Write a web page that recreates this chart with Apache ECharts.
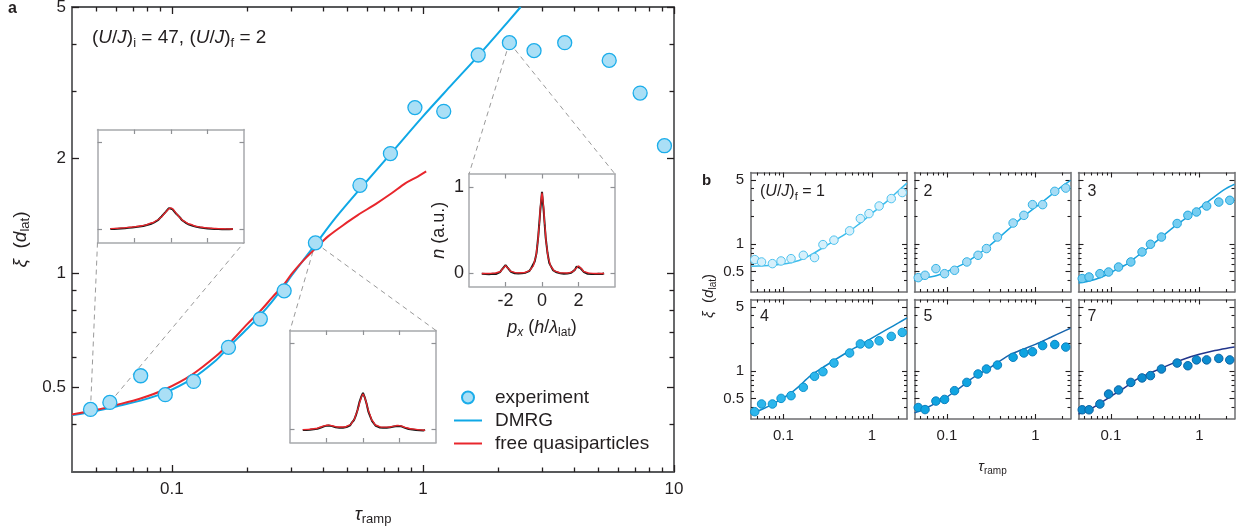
<!DOCTYPE html>
<html>
<head>
<meta charset="utf-8">
<title>correlation length vs ramp time</title>
<script src="https://cdn.jsdelivr.net/npm/echarts@6.0.0/dist/echarts.min.js"></script>
<style>
  html, body { margin: 0; padding: 0; background: #fff; }
  #main { width: 1251px; height: 531px; }
</style>
</head>
<body>
<div id="main"></div>
<script>
// ---- panel a : (U/J)i = 47 -> (U/J)f = 2
const tauA = [0.0474, 0.0566, 0.0751, 0.0941, 0.122, 0.168, 0.225, 0.28, 0.373, 0.561, 0.742, 0.929, 1.21, 1.66, 2.21, 2.77, 3.67, 5.52, 7.33, 9.16];
const xiA = [0.438, 0.457, 0.537, 0.479, 0.519, 0.638, 0.757, 0.898, 1.20, 1.70, 2.06, 2.72, 2.66, 3.74, 4.03, 3.84, 4.03, 3.62, 2.97, 2.16];

const tauDmrg = [0.04, 0.05, 0.06, 0.075, 0.094, 0.12, 0.15, 0.168, 0.2, 0.225, 0.25, 0.28, 0.3, 0.373, 0.45, 0.56, 0.74, 1.0, 1.3, 1.66, 2.0, 2.45];
const xiDmrg = [0.423, 0.434, 0.446, 0.462, 0.485, 0.527, 0.59, 0.638, 0.715, 0.775, 0.84, 0.925, 0.985, 1.19, 1.40, 1.66, 2.05, 2.58, 3.12, 3.72, 4.28, 5.0];

const tauFree = [0.04, 0.05, 0.06, 0.075, 0.094, 0.12, 0.15, 0.168, 0.2, 0.225, 0.25, 0.28, 0.3, 0.33, 0.373, 0.42, 0.5, 0.55, 0.65, 0.75, 0.85, 0.95, 1.03];
const xiFree = [0.425, 0.437, 0.45, 0.468, 0.495, 0.54, 0.605, 0.65, 0.735, 0.795, 0.86, 0.935, 0.995, 1.07, 1.16, 1.25, 1.36, 1.42, 1.52, 1.62, 1.72, 1.79, 1.85];

// ---- insets : momentum distributions n(p_x)
const pInset = [-3.3, -3.2, -3.1, -3.0, -2.9, -2.8, -2.7, -2.6, -2.5, -2.4,
  -2.3, -2.2, -2.1, -2.0, -1.9, -1.8, -1.7, -1.6, -1.5, -1.4,
  -1.3, -1.2, -1.1, -1.0, -0.9, -0.8, -0.7, -0.6, -0.5, -0.4,
  -0.3, -0.2, -0.1, 0, 0.1, 0.2, 0.3, 0.4, 0.5, 0.6,
  0.7, 0.8, 0.9, 1.0, 1.1, 1.2, 1.3, 1.4, 1.5, 1.6,
  1.7, 1.8, 1.9, 2.0, 2.1, 2.2, 2.3, 2.4, 2.5, 2.6,
  2.7, 2.8, 2.9, 3.0, 3.1, 3.2, 3.3, 3.4];
const nInset1 = [.004, .018, .006, .020, .009, .019, .012, .025, .014, .028,
  .019, .031, .022, .036, .027, .041, .033, .048, .040, .056,
  .051, .066, .062, .083, .082, .104, .106, .122, .150, .162,
  .196, .212, .245, .258, .232, .220, .180, .166, .139, .110,
  .103, .080, .079, .056, .060, .042, .047, .030, .036, .022,
  .030, .016, .026, .012, .022, .009, .018, .006, .016, .004,
  .014, .003, .013, .001, .012, .002, .010, .004];
const nInset2 = [-.006, .008, -.004, .010, -.002, .014, .003, .019, .010, .028,
  .024, .043, .040, .055, .046, .058, .040, .046, .026, .036,
  .022, .034, .021, .037, .030, .050, .049, .084, .108, .158,
  .228, .315, .378, .425, .372, .298, .205, .150, .098, .076,
  .044, .043, .025, .034, .020, .033, .022, .036, .028, .044,
  .036, .055, .042, .052, .038, .041, .020, .024, .006, .015,
  .000, .010, -.006, .005, -.009, .002, -.012, -.004];
const nInset3 = [-.004, .008, -.006, .006, -.008, .009, -.003, .007, -.005, .010,
  .016, .046, .066, .098, .070, .050, .020, .016, .002, .012,
  .001, .014, .004, .016, .010, .026, .028, .058, .076, .138,
  .236, .440, .716, .945, .702, .418, .240, .120, .080, .040,
  .032, .014, .016, .004, .010, -.002, .009, .000, .013, .008,
  .026, .042, .080, .092, .064, .042, .016, .012, -.003, .008,
  -.005, .006, -.007, .005, -.004, .007, -.006, .003];

const pFit = [-3.3, -3.0, -2.6, -2.3, -2.15, -2.0, -1.85, -1.7, -1.4, -1.0, -0.7, -0.5, -0.35, -0.25, -0.15, -0.08,
  0, 0.08, 0.15, 0.25, 0.35, 0.5, 0.7, 1.0, 1.4, 1.7, 1.85, 2.0, 2.15, 2.3, 2.6, 3.0, 3.4];
const fitInset1 = [0.010, 0.013, 0.018, 0.024, 0.027, 0.030, 0.034, 0.039, 0.050, 0.078, 0.110, 0.145, 0.180, 0.205, 0.228, 0.242,
  0.248, 0.242, 0.228, 0.200, 0.172, 0.135, 0.098, 0.062, 0.035, 0.025, 0.021, 0.018, 0.015, 0.013, 0.010, 0.007, 0.006];
const fitInset2 = [0.000, 0.002, 0.012, 0.030, 0.042, 0.050, 0.052, 0.045, 0.030, 0.030, 0.055, 0.110, 0.190, 0.260, 0.335, 0.385,
  0.410, 0.385, 0.335, 0.255, 0.185, 0.105, 0.050, 0.028, 0.028, 0.040, 0.048, 0.046, 0.038, 0.026, 0.010, 0.000, -0.008];
const fitInset3 = [0.000, 0.000, 0.004, 0.020, 0.055, 0.090, 0.060, 0.025, 0.008, 0.010, 0.030, 0.080, 0.180, 0.330, 0.560, 0.800,
  0.930, 0.800, 0.560, 0.320, 0.170, 0.075, 0.028, 0.008, 0.006, 0.022, 0.055, 0.088, 0.058, 0.022, 0.004, 0.000, 0.000];

// ---- panel b : different (U/J)f
const quenchB = ['1', '2', '3', '4', '5', '7'];
const tauB = [0.0474, 0.0566, 0.0751, 0.0941, 0.122, 0.168, 0.225, 0.28, 0.373, 0.561, 0.742, 0.929, 1.21, 1.66, 2.21];
const xiB1 = [0.676, 0.637, 0.611, 0.653, 0.692, 0.753, 0.711, 0.984, 1.10, 1.39, 1.89, 2.14, 2.59, 3.12, 3.63];
const xiB2 = [0.430, 0.456, 0.539, 0.475, 0.517, 0.637, 0.753, 0.891, 1.19, 1.69, 2.05, 2.68, 2.68, 3.74, 4.06];
const xiB3 = [0.420, 0.437, 0.475, 0.495, 0.561, 0.637, 0.819, 0.993, 1.19, 1.67, 2.05, 2.23, 2.59, 2.86, 2.99];
const xiB4 = [0.360, 0.437, 0.437, 0.503, 0.538, 0.664, 0.875, 0.982, 1.22, 1.57, 1.97, 1.97, 2.13, 2.38, 2.63];
const xiB5 = [0.400, 0.380, 0.470, 0.490, 0.610, 0.751, 0.927, 1.05, 1.16, 1.41, 1.57, 1.62, 1.89, 1.94, 1.82];
const xiB7 = [0.378, 0.378, 0.437, 0.561, 0.621, 0.751, 0.840, 0.890, 1.05, 1.22, 1.14, 1.32, 1.32, 1.37, 1.32];

const tauLineB = [0.043, 0.06, 0.08, 0.1, 0.12, 0.15, 0.2, 0.3, 0.5, 0.7, 1.0, 1.5, 2.0, 2.5];
const dmrgB1 = [0.572, 0.578, 0.59, 0.605, 0.625, 0.66, 0.75, 0.95, 1.28, 1.62, 2.15, 2.95, 3.8, 4.6];
const dmrgB2 = [0.40, 0.43, 0.46, 0.50, 0.54, 0.60, 0.71, 0.95, 1.45, 1.92, 2.5, 3.4, 4.25, 4.94];
const dmrgB3 = [0.375, 0.40, 0.44, 0.49, 0.54, 0.60, 0.74, 1.0, 1.5, 1.9, 2.45, 3.3, 4.0, 4.47];
const dmrgB4 = [0.34, 0.39, 0.45, 0.51, 0.57, 0.68, 0.88, 1.14, 1.55, 1.87, 2.28, 2.85, 3.34, 3.78];
const dmrgB5 = [0.35, 0.40, 0.46, 0.52, 0.59, 0.69, 0.85, 1.07, 1.48, 1.70, 1.95, 2.33, 2.65, 2.92];
const dmrgB7 = [0.34, 0.39, 0.46, 0.53, 0.59, 0.68, 0.82, 0.98, 1.21, 1.37, 1.52, 1.67, 1.76, 1.82];

// ---- tick values
const tickAMajorX = [0.1, 1, 10];
const tickAMinorX = [0.05, 0.06, 0.07, 0.08, 0.09, 0.2, 0.3, 0.4, 0.5, 0.6, 0.7, 0.8, 0.9, 2, 3, 4, 5, 6, 7, 8, 9];
const tickAMajorY = [0.5, 1, 2, 5];
const tickAMinorY = [0.4, 0.6, 0.7, 0.8, 0.9, 3, 4];
const tickBMajorX = [0.1, 1];
const tickBMinorX = [0.05, 0.06, 0.07, 0.08, 0.09, 0.2, 0.3, 0.4, 0.5, 0.6, 0.7, 0.8, 0.9, 2];
const tickBMajorY = [0.5, 1, 5];
const tickBMinorY = [0.4, 0.6, 0.7, 0.8, 0.9, 2, 3, 4];
const tickInsetX = [-2, 0, 2];
const tickInsetY = [0, 1];

// ---- layout
const FONT = '"Liberation Sans", Arial, Helvetica, sans-serif';
const INK = '#231f20';
const gridA = { left: 72, top: 7, width: 602, height: 465 };
const insetRects = [
  { left: 97.5, top: 129.5, width: 146.5, height: 113 },
  { left: 290, top: 330.5, width: 146, height: 112 },
  { left: 469, top: 174, width: 146, height: 112.5 }
];
const bCols = [751, 914.5, 1078.5];
const bRows = [172.5, 299.5];
const bW = 156, bH = 119.5;

const colorsB = [
  { fill: '#d6f0fb', edge: '#4fc3ef', line: '#3dbdec' },
  { fill: '#a6dcf5', edge: '#33b3e6', line: '#1fabe4' },
  { fill: '#74cdf1', edge: '#20a6de', line: '#1aa0dc' },
  { fill: '#2cb6ec', edge: '#0d93cd', line: '#0f87c9' },
  { fill: '#0fa4e1', edge: '#0a7fbf', line: '#1764ad' },
  { fill: '#0b8ccf', edge: '#0b64a5', line: '#22368c' }
];

function rich(size) {
  const sub = Math.round(size * 0.68);
  const subLh = Math.round(size * 0.6);
  return {
    i: { fontFamily: FONT, fontSize: size, fontStyle: 'italic', color: INK, fill: INK, lineHeight: size + 4 },
    s: { fontFamily: FONT, fontSize: sub, color: INK, fill: INK, lineHeight: subLh, verticalAlign: 'bottom' },
    si: { fontFamily: FONT, fontSize: sub, fontStyle: 'italic', color: INK, fill: INK, lineHeight: subLh, verticalAlign: 'bottom' }
  };
}
function nameStyle(size) {
  return { fontFamily: FONT, fontSize: size, color: INK, lineHeight: size + 4, rich: rich(size) };
}
const fmtTick = v => String(+Number(v).toPrecision(3));
const pairs = (xs, ys) => xs.map((x, i) => [x, ys[i]]);

// four framed sides; major ticks on the labelled axes, minor ticks on overlaid axes
const xAxes = [], yAxes = [];
function frame(gridIndex, kind, xr, yr, st) {
  const common = {
    gridIndex: gridIndex, type: kind, silent: true,
    splitLine: { show: false }, minorTick: { show: false }, minorSplitLine: { show: false }
  };
  const edge = show => ({ show: show, onZero: false, lineStyle: { color: st.line, width: st.lineWidth } });
  const ticks = (vals, len) => vals && vals.length
    ? { show: true, inside: true, length: len, customValues: vals, lineStyle: { color: st.tick, width: st.tickWidth } }
    : { show: false };
  const labels = (vals, margin) => vals
    ? { show: true, customValues: vals, fontSize: st.labelSize, fontFamily: FONT, color: INK, margin: margin, formatter: fmtTick }
    : { show: false };
  const res = { x: xAxes.length, y: yAxes.length };
  xAxes.push(Object.assign({}, common, { position: 'bottom', min: xr[0], max: xr[1], axisLine: edge(true),
    axisTick: ticks(st.xMajor, st.majorLen), axisLabel: labels(st.xLabels, st.xMargin) }, st.xName || {}));
  xAxes.push(Object.assign({}, common, { position: 'top', min: xr[0], max: xr[1], axisLine: edge(true),
    axisTick: ticks(st.xMajor, st.majorLen), axisLabel: labels(null) }));
  yAxes.push(Object.assign({}, common, { position: 'left', min: yr[0], max: yr[1], axisLine: edge(true),
    axisTick: ticks(st.yMajor, st.majorLen), axisLabel: labels(st.yLabels, st.yMargin) }, st.yName || {}));
  yAxes.push(Object.assign({}, common, { position: 'right', min: yr[0], max: yr[1], axisLine: edge(true),
    axisTick: ticks(st.yMajor, st.majorLen), axisLabel: labels(null) }));
  if (st.xMinor) {
    ['bottom', 'top'].forEach(p => xAxes.push(Object.assign({}, common, { position: p, min: xr[0], max: xr[1],
      axisLine: edge(false), axisTick: ticks(st.xMinor, st.minorLen), axisLabel: labels(null) })));
  }
  if (st.yMinor) {
    ['left', 'right'].forEach(p => yAxes.push(Object.assign({}, common, { position: p, min: yr[0], max: yr[1],
      axisLine: edge(false), axisTick: ticks(st.yMinor, st.minorLen), axisLabel: labels(null) })));
  }
  return res;
}

const grids = [];
const addGrid = (r, bg) => {
  grids.push({ left: r.left, top: r.top, width: r.width, height: r.height, containLabel: false,
    outerBoundsMode: 'none', show: !!bg, backgroundColor: bg || 'transparent', borderWidth: 0 });
  return grids.length - 1;
};

// panel a
const gA = addGrid(gridA);
const axA = frame(gA, 'log', [0.04, 10], [0.3, 5], {
  line: '#58595b', lineWidth: 1.8, tick: '#231f20', tickWidth: 1.3, majorLen: 7, minorLen: 4.5, labelSize: 17,
  xMajor: tickAMajorX, xMinor: tickAMinorX, yMajor: tickAMajorY, yMinor: tickAMinorY,
  xLabels: tickAMajorX, yLabels: tickAMajorY, xMargin: 9, yMargin: 6,
  xName: { name: '{i|τ}{s|ramp}', nameLocation: 'middle', nameGap: 31, nameTextStyle: nameStyle(19) },
  yName: { name: '{i|ξ}  ({i|d}{s|lat})', nameLocation: 'middle', nameGap: 40, nameRotate: 90, nameTextStyle: nameStyle(19) }
});

// insets
const insetData = [[nInset1, fitInset1], [nInset2, fitInset2], [nInset3, fitInset3]];
const axInset = insetRects.map((r, k) => {
  const g = addGrid(r, '#ffffff');
  const withLabels = k === 2;
  return frame(g, 'value', [-4, 4], [-0.15, 1.15], {
    line: '#a7a9ac', lineWidth: 1.5, tick: '#8f9194', tickWidth: 1.2, majorLen: 4.5, labelSize: 18,
    xMajor: tickInsetX, yMajor: tickInsetY,
    xLabels: withLabels ? tickInsetX : null, yLabels: withLabels ? tickInsetY : null, xMargin: 6, yMargin: 5,
    xName: withLabels ? { name: '{i|p}{si|x} ({i|h}/{i|λ}{s|lat})', nameLocation: 'middle', nameGap: 30, nameTextStyle: nameStyle(18) } : null,
    yName: withLabels ? { name: '{i|n} (a.u.)', nameLocation: 'middle', nameGap: 16, nameRotate: 90, nameTextStyle: nameStyle(18) } : null
  });
});

// panel b
const xiB = [xiB1, xiB2, xiB3, xiB4, xiB5, xiB7];
const dmrgB = [dmrgB1, dmrgB2, dmrgB3, dmrgB4, dmrgB5, dmrgB7];
const axB = quenchB.map((q, k) => {
  const col = k % 3, row = Math.floor(k / 3);
  const g = addGrid({ left: bCols[col], top: bRows[row], width: bW, height: bH });
  return frame(g, 'log', [0.043, 2.5], [0.3, 6], {
    line: '#6d6e70', lineWidth: 1.5, tick: '#231f20', tickWidth: 1.1, majorLen: 5, minorLen: 3, labelSize: 15,
    xMajor: tickBMajorX, xMinor: tickBMinorX, yMajor: tickBMajorY, yMinor: tickBMinorY,
    xLabels: row === 1 ? tickBMajorX : null, yLabels: col === 0 ? tickBMajorY : null, xMargin: 9, yMargin: 7,
    xName: k === 4 ? { name: '{i|τ}{s|ramp}', nameLocation: 'middle', nameGap: 38, nameTextStyle: nameStyle(15) } : null
  });
});

const series = [];
series.push({
  name: 'DMRG', type: 'line', xAxisIndex: axA.x, yAxisIndex: axA.y, data: pairs(tauDmrg, xiDmrg),
  smooth: 0.3, symbol: 'none', lineStyle: { color: '#0fa8e6', width: 2 }, itemStyle: { color: '#0fa8e6' }, z: 3
});
series.push({
  name: 'free quasiparticles', type: 'line', xAxisIndex: axA.x, yAxisIndex: axA.y, data: pairs(tauFree, xiFree),
  smooth: 0.3, symbol: 'none', lineStyle: { color: '#e8262c', width: 2 }, itemStyle: { color: '#e8262c' }, z: 3
});
series.push({
  name: 'experiment', type: 'scatter', xAxisIndex: axA.x, yAxisIndex: axA.y, data: pairs(tauA, xiA),
  symbolSize: 14, itemStyle: { color: '#aadff6', borderColor: '#1badea', borderWidth: 1.3, opacity: 1 }, z: 5
});
axInset.forEach((ax, k) => {
  series.push({
    type: 'line', xAxisIndex: ax.x, yAxisIndex: ax.y, data: pairs(pInset, insetData[k][0]),
    symbol: 'none', lineStyle: { color: '#1a1a1a', width: 2 }, z: 3
  });
  series.push({
    type: 'line', xAxisIndex: ax.x, yAxisIndex: ax.y, data: pairs(pFit, insetData[k][1]),
    smooth: 0.35, smoothMonotone: 'x', symbol: 'none', lineStyle: { color: '#e8262c', width: 1.4 }, z: 4
  });
});
axB.forEach((ax, k) => {
  series.push({
    type: 'line', xAxisIndex: ax.x, yAxisIndex: ax.y, data: pairs(tauLineB, dmrgB[k]),
    smooth: 0.3, symbol: 'none', lineStyle: { color: colorsB[k].line, width: 1.5 }, z: 3
  });
  series.push({
    type: 'scatter', xAxisIndex: ax.x, yAxisIndex: ax.y, data: pairs(tauB, xiB[k]),
    symbolSize: 8.5, itemStyle: { color: colorsB[k].fill, borderColor: colorsB[k].edge, borderWidth: 1, opacity: 1 }, z: 5
  });
});

function label(id, x, y, text, size, extra) {
  return {
    id: id, type: 'text', x: x, y: y, silent: true,
    style: Object.assign({
      text: text, fill: INK, fontFamily: FONT, fontSize: size, lineHeight: size + 4, rich: rich(size),
      align: 'left', verticalAlign: 'middle', textAlign: 'left', textVerticalAlign: 'middle'
    }, extra || {})
  };
}

const texts = [
  label('t-a', 8, 9, 'a', 16, { fontWeight: 'bold' }),
  label('t-b', 702, 181, 'b', 15, { fontWeight: 'bold' }),
  label('t-ann', 92, 38, '({i|U}/{i|J}){s|i} = 47, ({i|U}/{i|J}){s|f} = 2', 19)
];
quenchB.forEach((q, k) => {
  const col = k % 3, row = Math.floor(k / 3);
  const txt = k === 0 ? '({i|U}/{i|J}){s|f} = ' + q : q;
  texts.push(label('t-q' + k, bCols[col] + 9, row === 0 ? 192 : 317, txt, 16));
});
texts.push(Object.assign(label('t-ylb', 709, 296, '{i|ξ}  ({i|d}{s|lat})', 15,
  { align: 'center', textAlign: 'center' }), { rotation: Math.PI / 2 }));

const lineIcon = 'path://M0,0 L28,0 L28,2 L0,2 Z';
const chart = echarts.init(document.getElementById('main'), null, { renderer: 'canvas' });
chart.setOption({
  animation: false,
  backgroundColor: '#ffffff',
  textStyle: { fontFamily: FONT },
  grid: grids,
  xAxis: xAxes,
  yAxis: yAxes,
  legend: {
    data: ['experiment', { name: 'DMRG', icon: lineIcon }, { name: 'free quasiparticles', icon: lineIcon }],
    orient: 'vertical', left: 454, top: 388, padding: 0,
    itemWidth: 28, itemHeight: 12, itemGap: 4, selectedMode: false,
    textStyle: { fontFamily: FONT, fontSize: 19, color: INK, lineHeight: 19, padding: [0, 0, 0, 8] }
  },
  graphic: { elements: texts },
  series: series
});

// dashed connectors from selected data points to inset corners
const corner = (r, which) => [which[1] === 'l' ? r.left : r.left + r.width, which[0] === 't' ? r.top : r.top + r.height];
const links = [[0, 0, 'bl'], [1, 0, 'br'], [8, 1, 'tl'], [8, 1, 'tr'], [14, 2, 'tl'], [14, 2, 'tr']];
const connectors = links.map((l, k) => {
  const p = chart.convertToPixel({ xAxisIndex: axA.x, yAxisIndex: axA.y }, [tauA[l[0]], xiA[l[0]]]);
  const c = corner(insetRects[l[1]], l[2]);
  return {
    id: 'link' + k, type: 'line', silent: true, z: 1,
    shape: { x1: p[0], y1: p[1], x2: c[0], y2: c[1] },
    style: { stroke: '#9a9a9a', lineWidth: 1, lineDash: [5, 4] }
  };
});
chart.setOption({ graphic: { elements: connectors } });
</script>
</body>
</html>
